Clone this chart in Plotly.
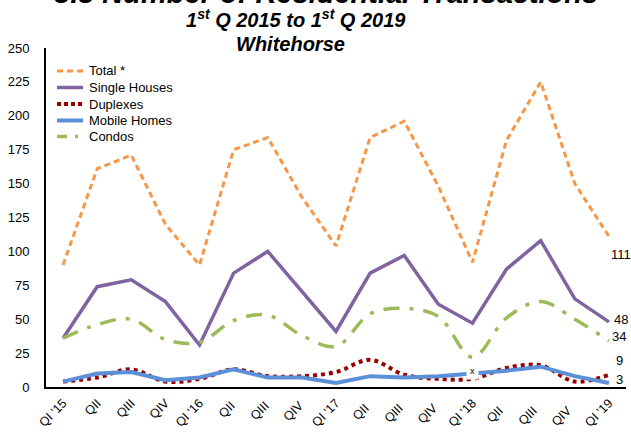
import plotly.graph_objects as go

quarters = ["QI '15", "QII", "QIII", "QIV", "QI '16", "QII ", "QIII ", "QIV ",
            "QI '17", "QII  ", "QIII  ", "QIV  ", "QI '18", "QII   ", "QIII   ", "QIV   ", "QI '19"]
total = [90, 161, 171, 120, 90, 175, 184, 140, 104, 184, 196, 148, 92, 182, 225, 150, 111]
single_houses = [36, 74, 79, 63, 31, 84, 100, 70, 41, 84, 97, 61, 47, 87, 108, 65, 48]
duplexes = [4, 7, 13, 4, 6, 13, 8, 8, 11, 20, 9, 6, 6, 14, 16, 4, 9]
mobile_homes = [4, 10, 11, 5, 7, 13, 7, 7, 3, 8, 7, 8, 10, 12, 15, 8, 3]
condos = [36, 46, 50, 35, 33, 49, 53, 38, 30, 54, 58, 52, 22, 51, 63, 50, 34]
y_ticks = [0, 25, 50, 75, 100, 125, 150, 175, 200, 225, 250]
series_names = ["Total *", "Single Houses", "Duplexes", "Mobile Homes", "Condos"]

styles = [
    dict(color="#F79646", width=3, dash="6px,4px"),
    dict(color="#8064A2", width=3.5),
    dict(color="#990000", width=4, dash="4px,4px", shape="spline"),
    dict(color="#5B8FD8", width=4),
    dict(color="#9BBB59", width=3.5, dash="16px,10px,4px,10px", shape="spline"),
]
series = [total, single_houses, duplexes, mobile_homes, condos]

fig = go.Figure()
for name, vals, st in zip(series_names, series, styles):
    fig.add_trace(go.Scatter(x=quarters, y=vals, name=name, mode="lines", line=st,
                             showlegend=False, hoverinfo="skip"))

font = "Liberation Sans, Arial, sans-serif"

# "x" marker for suppressed mobile homes value
fig.add_annotation(x=quarters[12], y=mobile_homes[12], text="x", showarrow=False,
                   bgcolor="white", borderpad=3, yshift=2,
                   font=dict(family=font, size=9, color="black"))

# end labels
last = quarters[-1]
end_labels = [(total[-1], 0, -18), (single_houses[-1], 3, 2), (condos[-1], 1, 4),
              (duplexes[-1], 5, 14), (mobile_homes[-1], 5, 3)]
for val, xs, ys in end_labels:
    fig.add_annotation(x=last, y=val, text=str(val), showarrow=False, xanchor="left",
                       xshift=xs, yshift=ys, font=dict(family=font, size=13, color="black"))

# custom legend
legend_rows = [71, 87.5, 104, 120.5, 136.5]
for name, st, py in zip(series_names, styles, legend_rows):
    yp = (387 - py) / 339
    dash = st.get("dash", "solid")
    if name == "Duplexes":
        dash = "4px,3px"
    if name == "Condos":
        dash = "10px,8px,3px,8px"
    fig.add_shape(type="line", xref="paper", yref="paper",
                  x0=(57 - 46) / 580, x1=(83 - 46) / 580, y0=yp, y1=yp,
                  line=dict(color=st["color"], width=st["width"], dash=dash))
    fig.add_annotation(xref="paper", yref="paper", x=(87 - 46) / 580, y=yp,
                       xanchor="left", yanchor="middle", text=name, showarrow=False,
                       font=dict(family=font, size=13, color="black"))

fig.add_annotation(xref="paper", yref="paper", x=(326 - 46) / 580, y=1.162, yanchor="middle",
                   text="<b><i>3.3 Number of Residential Transactions</i></b>", showarrow=False,
                   font=dict(family=font, size=29, color="black"))
fig.add_annotation(xref="paper", yref="paper", x=(296 - 46) / 580, y=1.088, yanchor="middle",
                   text="<b><i>1<sup>st</sup> Q 2015 to 1<sup>st</sup> Q 2019</i></b>", showarrow=False,
                   font=dict(family=font, size=20, color="black"))
fig.add_annotation(xref="paper", yref="paper", x=(290.5 - 46) / 580, y=1.012, yanchor="middle",
                   text="<b><i>Whitehorse</i></b>", showarrow=False,
                   font=dict(family=font, size=20, color="black"))

fig.update_layout(
    width=631, height=432,
    margin=dict(l=46, r=5, t=48, b=45),
    paper_bgcolor="white", plot_bgcolor="white",
    font=dict(family=font, size=12, color="black"),
    showlegend=False,
    xaxis=dict(type="category", range=[-0.5, 16.5], showgrid=False, showline=True,
               linecolor="black", linewidth=2, tickangle=-45, ticks="",
               tickfont=dict(size=12.5), ticklabelstandoff=2, automargin=False),
    yaxis=dict(range=[0, 250], tickvals=y_ticks, showgrid=False, showline=True,
               linecolor="black", linewidth=2, ticks="", zeroline=False,
               tickfont=dict(size=13), ticklabelstandoff=12, automargin=False),
)
fig.write_html("out.html", config={"displayModeBar": False},
               post_script="document.body.style.margin='0';document.body.style.padding='0';")
